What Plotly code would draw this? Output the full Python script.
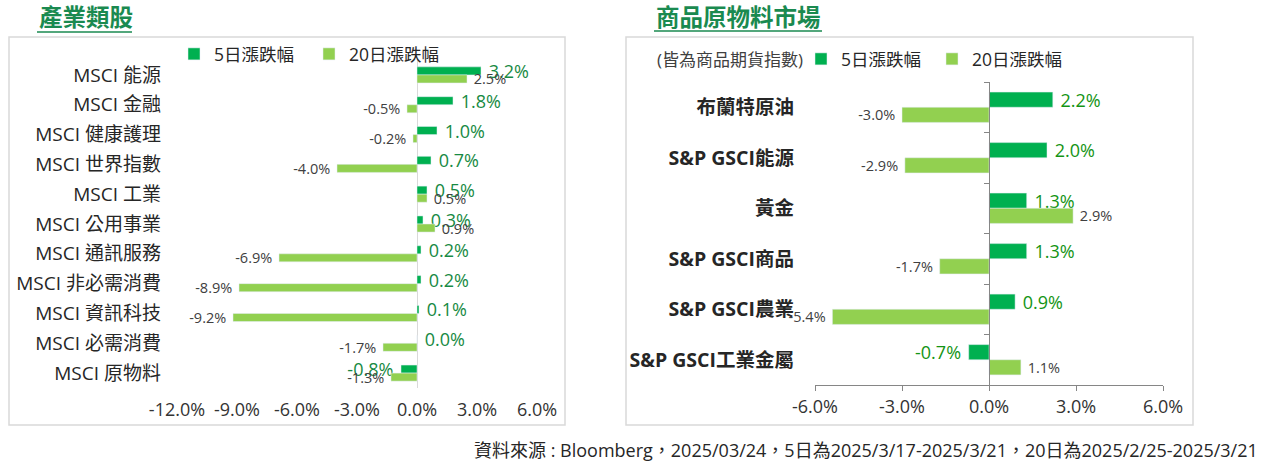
import plotly.graph_objects as go

W, H = 1263, 465

# ---------------- data ----------------
sector_names = ["MSCI 能源", "MSCI 金融", "MSCI 健康護理", "MSCI 世界指數", "MSCI 工業",
                "MSCI 公用事業", "MSCI 通訊服務", "MSCI 非必需消費", "MSCI 資訊科技",
                "MSCI 必需消費", "MSCI 原物料"]
sector_5d = [3.2, 1.8, 1.0, 0.7, 0.5, 0.3, 0.2, 0.2, 0.1, 0.0, -0.8]
sector_20d = [2.5, -0.5, -0.2, -4.0, 0.5, 0.9, -6.9, -8.9, -9.2, -1.7, -1.3]

commodity_names = ["布蘭特原油", "S&P GSCI能源", "黃金", "S&P GSCI商品", "S&P GSCI農業", "S&P GSCI工業金屬"]
commodity_5d = [2.2, 2.0, 1.3, 1.3, 0.9, -0.7]
commodity_20d = [-3.0, -2.9, 2.9, -1.7, -5.4, 1.1]

series_names = ["5日漲跌幅", "20日漲跌幅"]
left_ticks = [-12, -9, -6, -3, 0, 3, 6]
left_tick_labels = ["-12.0%", "-9.0%", "-6.0%", "-3.0%", "0.0%", "3.0%", "6.0%"]
right_ticks = [-6, -3, 0, 3, 6]
right_tick_labels = ["-6.0%", "-3.0%", "0.0%", "3.0%", "6.0%"]

# ---------------- style ----------------
FONT = "Open Sans, Noto Sans CJK TC"
C5 = "#00B050"
C20 = "#92D050"
TXT = "#262626"
GREEN_T = "#1A8A50"


def px(x):
    return x / W


def py(y):
    return 1 - y / H


def labels(vals):
    # value label with a little padding on the outer side of the bar
    return [(" %.1f%%" % v) if v >= 0 else ("%.1f%% " % v) for v in vals]


fig = go.Figure()

common = dict(orientation="h", textposition="outside", constraintext="none",
              cliponaxis=False, hoverinfo="skip")

# left chart bars
fig.add_trace(go.Bar(
    y=sector_names, x=sector_5d, name=series_names[0], marker_color=C5,
    width=0.27, offset=-0.27, text=labels(sector_5d),
    textfont=dict(size=18, color="#178A43", family=FONT),
    xaxis="x", yaxis="y", legend="legend", **common))
fig.add_trace(go.Bar(
    y=sector_names, x=sector_20d, name=series_names[1], marker_color=C20,
    width=0.27, offset=0.0, text=labels(sector_20d),
    textfont=dict(size=14.5, color="#404040", family=FONT),
    xaxis="x", yaxis="y", legend="legend", **common))

# right chart bars
fig.add_trace(go.Bar(
    y=commodity_names, x=commodity_5d, name=series_names[0], marker_color=C5,
    width=0.3, offset=-0.3, text=labels(commodity_5d),
    textfont=dict(size=18, color="#149414", family=FONT),
    xaxis="x2", yaxis="y2", legend="legend2", **common))
fig.add_trace(go.Bar(
    y=commodity_names, x=commodity_20d, name=series_names[1], marker_color=C20,
    width=0.3, offset=0.0, text=labels(commodity_20d),
    textfont=dict(size=14.5, color="#404040", family=FONT),
    xaxis="x2", yaxis="y2", legend="legend2", **common))

# invisible helper so the axis crossing at 0 gets its category-boundary ticks
fig.add_trace(go.Scatter(
    y=commodity_names, x=[0] * len(commodity_names), mode="markers",
    marker=dict(opacity=0, size=1), showlegend=False, hoverinfo="skip",
    xaxis="x2", yaxis="y3"))

n_l = len(sector_names)
n_r = len(commodity_names)

fig.update_layout(
    width=W, height=H, autosize=False,
    margin=dict(l=0, r=0, t=0, b=0, pad=0, autoexpand=False),
    paper_bgcolor="white", plot_bgcolor="white",
    font=dict(family=FONT, color=TXT),
    barmode="overlay",
    xaxis=dict(domain=[px(177), px(537)], range=[-12, 6], tickmode="array",
               tickvals=left_ticks, ticktext=left_tick_labels, showgrid=False, showline=False,
               zeroline=True, zerolinecolor="#D9D9D9", zerolinewidth=1,
               ticks="", tickfont=dict(size=18, color="#333333"), anchor="y",
               ticklabelstandoff=9, automargin=False),
    yaxis=dict(domain=[py(388), py(60)], type="category", categoryorder="array",
               categoryarray=sector_names, range=[n_l - 0.5, -0.5],
               showgrid=False, showline=False, ticks="", anchor="x",
               tickfont=dict(size=19, color=TXT), ticklabelstandoff=15, automargin=False),
    xaxis2=dict(domain=[px(815), px(1163)], range=[-6, 6], tickmode="array",
                tickvals=right_ticks, ticktext=right_tick_labels, showgrid=False,
                showline=True, linecolor="#868686", linewidth=1,
                zeroline=False, ticks="outside", ticklen=5, tickcolor="#868686",
                tickfont=dict(size=18, color="#333333"), anchor="y2", automargin=False),
    yaxis2=dict(domain=[py(385), py(82)], type="category", categoryorder="array",
                categoryarray=commodity_names, range=[n_r - 0.5, -0.5],
                showgrid=False, showline=False, ticks="", anchor="x2",
                tickfont=dict(size=19.5, color=TXT, weight="bold"), ticklabelstandoff=20,
                automargin=False),
    yaxis3=dict(overlaying="y2", anchor="free", position=px(989), type="category",
                categoryorder="array", categoryarray=commodity_names,
                range=[n_r - 0.5, -0.5], showgrid=False, showline=True,
                linecolor="#868686", linewidth=1, ticks="outside", tickson="boundaries",
                ticklen=5, tickcolor="#868686", showticklabels=False, automargin=False),
    legend=dict(orientation="h", x=px(174), y=py(54), xanchor="left", yanchor="middle",
                entrywidth=90, entrywidthmode="pixels", bgcolor="rgba(0,0,0,0)",
                font=dict(size=17.5, color=TXT), traceorder="normal"),
    legend2=dict(orientation="h", x=px(801), y=py(59), xanchor="left", yanchor="middle",
                 entrywidth=86, entrywidthmode="pixels", bgcolor="rgba(0,0,0,0)",
                 font=dict(size=17.5, color=TXT), traceorder="normal"),
    showlegend=True,
)

shapes = [
    dict(type="rect", xref="paper", yref="paper", x0=px(9), x1=px(565), y0=py(425), y1=py(37),
         line=dict(color="#D9D9D9", width=1.5), layer="below"),
    dict(type="rect", xref="paper", yref="paper", x0=px(626), x1=px(1193), y0=py(425), y1=py(37),
         line=dict(color="#D9D9D9", width=1.5), layer="below"),
    dict(type="line", xref="paper", yref="paper", x0=px(37), x1=px(132), y0=py(32), y1=py(32),
         line=dict(color=GREEN_T, width=1.5)),
    dict(type="line", xref="paper", yref="paper", x0=px(654), x1=px(822), y0=py(31), y1=py(31),
         line=dict(color=GREEN_T, width=1.5)),
]
fig.update_layout(shapes=shapes)

annotations = [
    dict(text="<b>產業類股</b>", x=px(37), y=py(17), xref="paper", yref="paper",
         xanchor="left", yanchor="middle", showarrow=False,
         font=dict(size=23.5, color=GREEN_T, family=FONT)),
    dict(text="<b>商品原物料市場</b>", x=px(654), y=py(17), xref="paper", yref="paper",
         xanchor="left", yanchor="middle", showarrow=False,
         font=dict(size=23.5, color=GREEN_T, family=FONT)),
    dict(text="(皆為商品期貨指數)", x=px(655), y=py(59), xref="paper", yref="paper",
         xanchor="left", yanchor="middle", showarrow=False,
         font=dict(size=17, color="#404040", family=FONT)),
    dict(text="資料來源 : Bloomberg，2025/03/24，5日為2025/3/17-2025/3/21，20日為2025/2/25-2025/3/21",
         x=px(1260), y=py(450), xref="paper", yref="paper",
         xanchor="right", yanchor="middle", showarrow=False,
         font=dict(size=18, color=TXT, family=FONT)),
]
fig.update_layout(annotations=annotations)

fig.write_html("out.html", config={"displayModeBar": False},
               post_script="document.body.style.margin='0px';")
